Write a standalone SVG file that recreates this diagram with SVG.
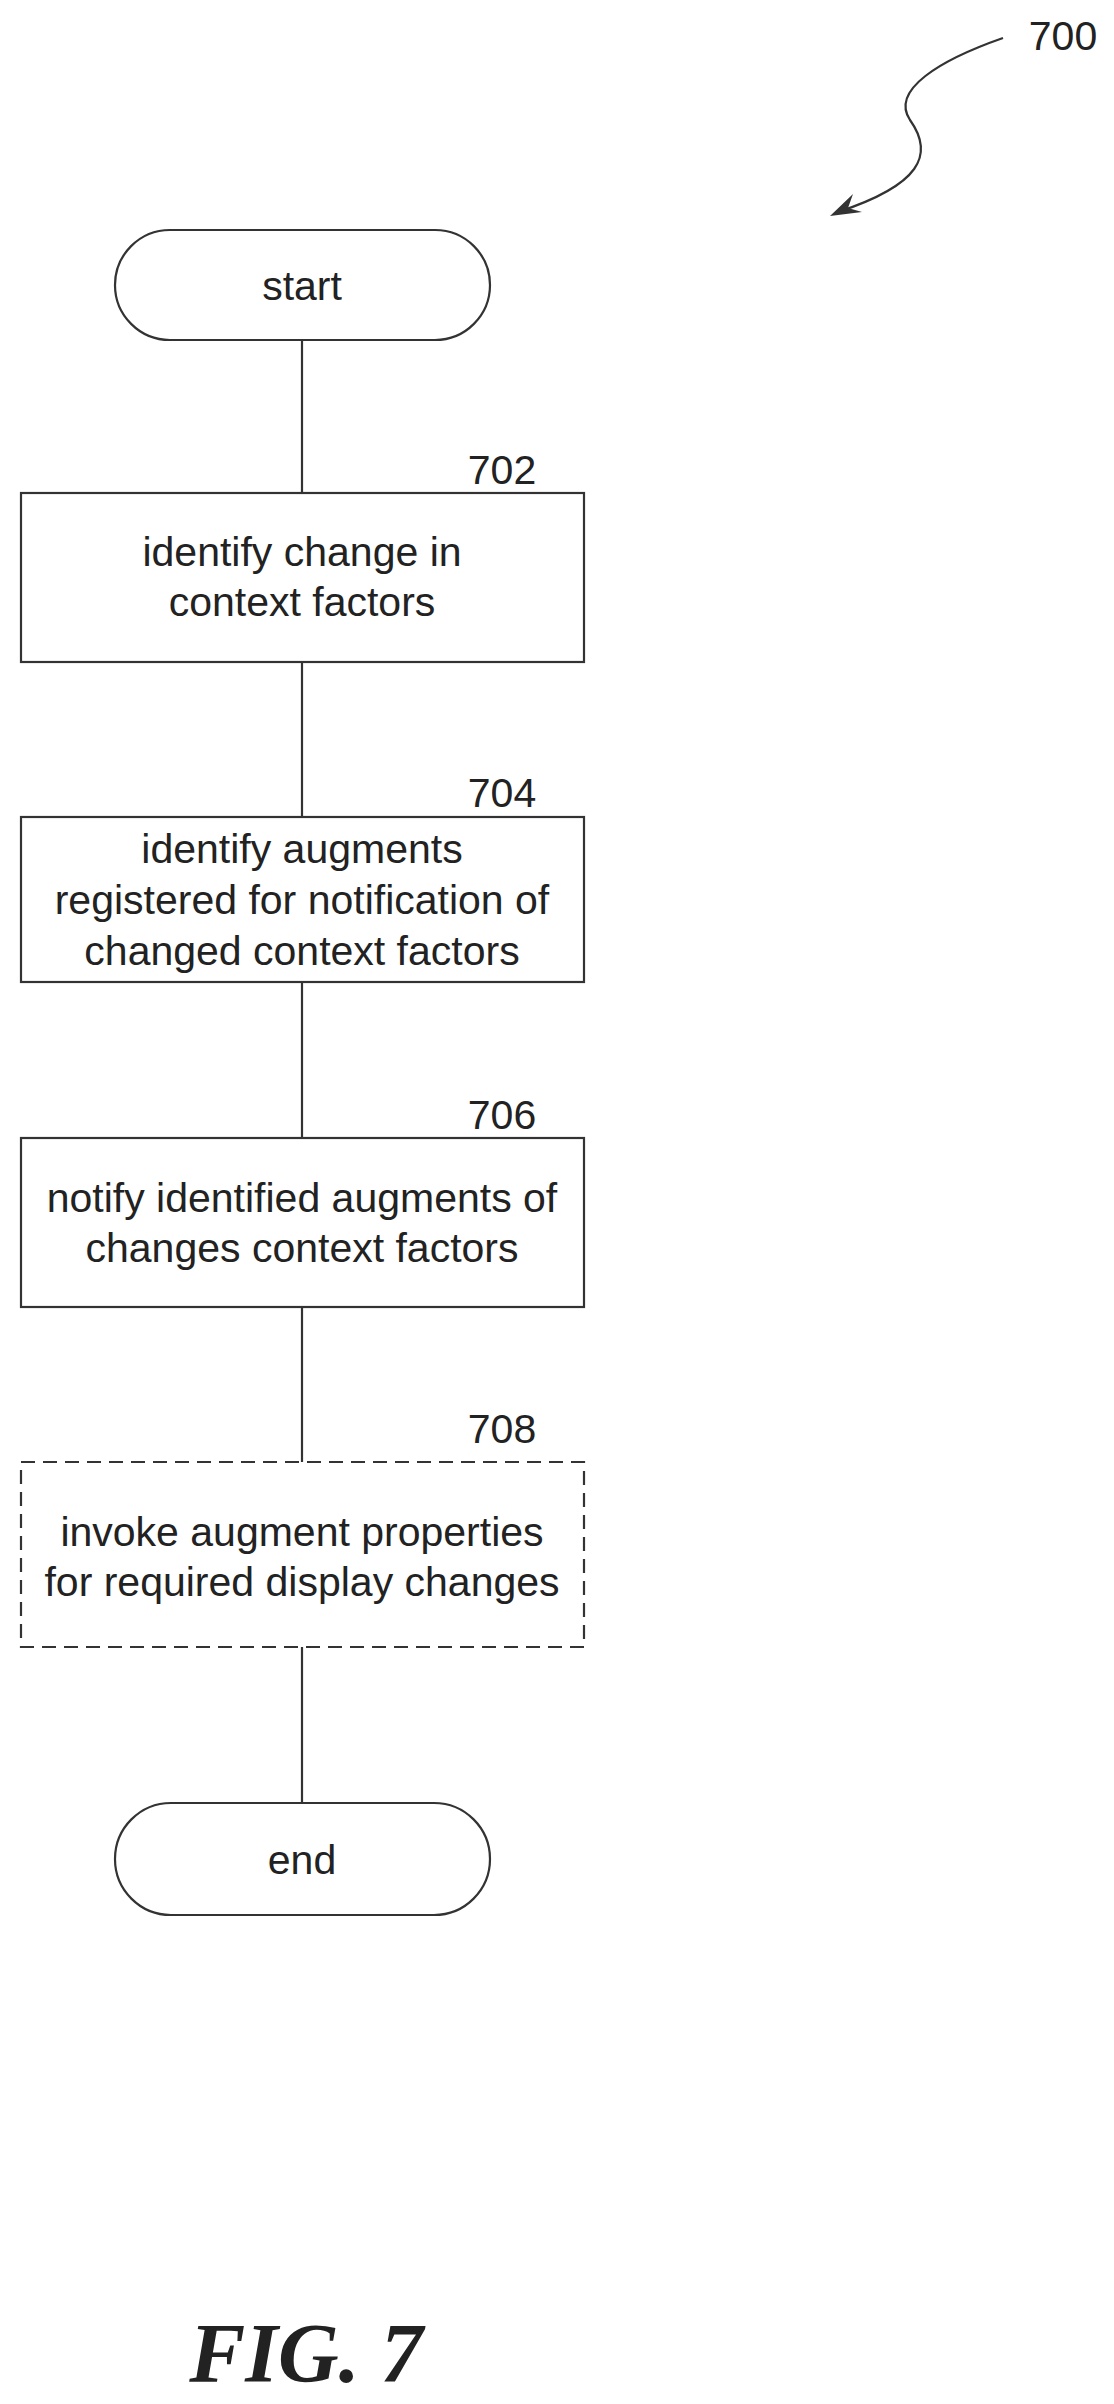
<svg xmlns="http://www.w3.org/2000/svg" width="1114" height="2404" viewBox="0 0 1114 2404">
<style>
.b{fill:#fff;stroke:#333;stroke-width:2.2}
.d{fill:#fff;stroke:#333;stroke-width:2.2;stroke-dasharray:14 8}
.t{font-family:"Liberation Sans",Arial,sans-serif;font-size:41px;fill:#222;text-anchor:middle}
.n{font-family:"Liberation Sans",Arial,sans-serif;font-size:41px;fill:#222;text-anchor:middle}
.c{stroke:#333;stroke-width:2.2;fill:none}
</style>
<rect width="1114" height="2404" fill="#fff"/>
<g id="connectors">
<line class="c" x1="302" y1="340" x2="302" y2="493"/>
<line class="c" x1="302" y1="662" x2="302" y2="817"/>
<line class="c" x1="302" y1="982" x2="302" y2="1138"/>
<line class="c" x1="302" y1="1307" x2="302" y2="1462"/>
<line class="c" x1="302" y1="1647" x2="302" y2="1803"/>
</g>
<g id="start"><rect class="b" x="115" y="230" width="375" height="110" rx="55"/><text class="t" x="302" y="300">start</text></g>
<g id="n702"><rect class="b" x="21" y="493" width="563" height="169"/><text class="n" x="502" y="484">702</text><text class="t" x="302" y="566">identify change in</text><text class="t" x="302" y="616">context factors</text></g>
<g id="n704"><rect class="b" x="21" y="817" width="563" height="165"/><text class="n" x="502" y="807">704</text><text class="t" x="302" y="863">identify augments</text><text class="t" x="302" y="914">registered for notification of</text><text class="t" x="302" y="965">changed context factors</text></g>
<g id="n706"><rect class="b" x="21" y="1138" width="563" height="169"/><text class="n" x="502" y="1129">706</text><text class="t" x="302" y="1212">notify identified augments of</text><text class="t" x="302" y="1262">changes context factors</text></g>
<g id="n708"><rect class="d" x="21" y="1462" width="563" height="185"/><text class="n" x="502" y="1443">708</text><text class="t" x="302" y="1546">invoke augment properties</text><text class="t" x="302" y="1596">for required display changes</text></g>
<g id="end"><rect class="b" x="115" y="1803" width="375" height="112" rx="56"/><text class="t" x="302" y="1874">end</text></g>
<g id="ref700"><text class="n" x="1063" y="50">700</text>
<path class="c" d="M1003,38 C940,60 890,90 910,120 C935,155 920,185 838,212"/>
<polygon points="830,216 853,194 848,208 862,212" fill="#333"/></g>
<text x="306" y="2382" font-family="Liberation Serif,serif" font-size="84" font-style="italic" font-weight="bold" fill="#222" text-anchor="middle">FIG. 7</text>
</svg>
